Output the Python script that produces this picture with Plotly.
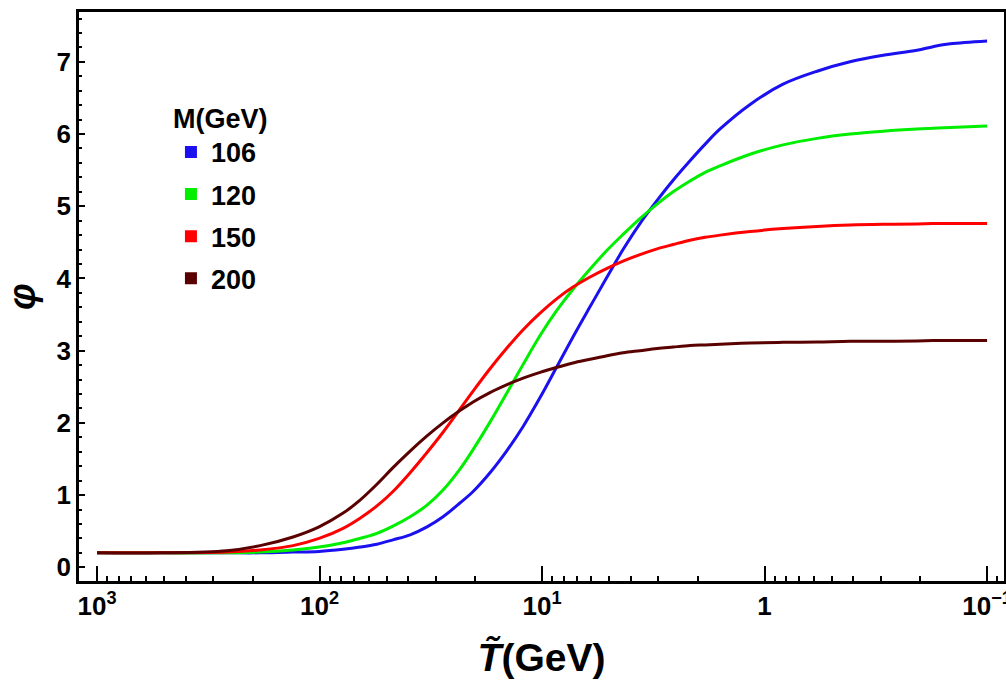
import plotly.graph_objects as go

# temperature grid (log10 of GeV), decreasing from 10^3 to 10^-1
T_log10 = [3.000, 2.717, 2.416, 2.267, 2.119, 2.002, 1.894, 1.818, 1.742, 1.670, 1.593,
           1.517, 1.445, 1.369, 1.310, 1.234, 1.157, 1.085, 1.009, 0.933, 0.861, 0.784,
           0.708, 0.636, 0.560, 0.483, 0.411, 0.335, 0.267, 0.200, 0.065, -0.083, -0.236,
           -0.384, -0.533, -0.685, -0.757, -0.834, -1.000]
T_vals = [10 ** v for v in T_log10]

masses = ["106", "120", "150", "200"]
phi_106 = [0.20, 0.20, 0.20, 0.20, 0.21, 0.22, 0.25, 0.28, 0.32, 0.38, 0.45, 0.56, 0.70,
           0.89, 1.05, 1.31, 1.62, 1.95, 2.35, 2.78, 3.19, 3.61, 4.02, 4.40, 4.76, 5.08,
           5.36, 5.63, 5.86, 6.07, 6.41, 6.69, 6.87, 7.00, 7.09, 7.16, 7.21, 7.25, 7.29]
phi_120 = [0.20, 0.20, 0.20, 0.21, 0.24, 0.28, 0.34, 0.40, 0.47, 0.57, 0.70, 0.86, 1.07,
           1.36, 1.63, 2.01, 2.42, 2.81, 3.21, 3.56, 3.85, 4.13, 4.39, 4.61, 4.83, 5.03,
           5.20, 5.35, 5.47, 5.56, 5.72, 5.85, 5.94, 6.00, 6.04, 6.07, 6.08, 6.09, 6.11]
phi_150 = [0.20, 0.20, 0.21, 0.24, 0.30, 0.40, 0.54, 0.68, 0.85, 1.05, 1.31, 1.59, 1.87,
           2.19, 2.44, 2.75, 3.04, 3.29, 3.52, 3.72, 3.88, 4.02, 4.14, 4.24, 4.33, 4.41,
           4.47, 4.53, 4.57, 4.60, 4.65, 4.69, 4.72, 4.74, 4.75, 4.755, 4.76, 4.76, 4.76]
phi_200 = [0.20, 0.20, 0.23, 0.30, 0.42, 0.56, 0.75, 0.93, 1.15, 1.38, 1.61, 1.82, 2.00,
           2.17, 2.29, 2.42, 2.53, 2.62, 2.70, 2.77, 2.83, 2.88, 2.93, 2.97, 3.00, 3.03,
           3.05, 3.07, 3.08, 3.09, 3.105, 3.115, 3.12, 3.13, 3.13, 3.135, 3.14, 3.14, 3.14]
series = [phi_106, phi_120, phi_150, phi_200]
colors = ["#1a10f0", "#00ee00", "#ff0000", "#5a0000"]

x_tickvals = [1000, 100, 10, 1, 0.1]
x_ticktext = ["10<sup>3</sup>", "10<sup>2</sup>", "10<sup>1</sup>", "1", "10<sup>−1</sup>"]
y_tickvals = [0, 1, 2, 3, 4, 5, 6, 7]

FONT = "Liberation Sans, Arial, sans-serif"

fig = go.Figure()
for m, ys, c in zip(masses, series, colors):
    fig.add_trace(go.Scatter(x=T_vals, y=ys, mode="lines",
                             line=dict(color=c, width=3, shape="spline", smoothing=1.0),
                             showlegend=False, hoverinfo="skip"))
for m, c in zip(masses, colors):
    fig.add_trace(go.Scatter(x=[None], y=[None], mode="markers", name=m, legendgroup=m,
                             marker=dict(symbol="square", size=10, color=c)))

fig.update_layout(
    width=1006, height=692,
    margin=dict(l=79, r=2, t=12, b=111),
    plot_bgcolor="white", paper_bgcolor="white",
    font=dict(family=FONT, size=26, color="black"),
    showlegend=True,
    legend=dict(
        title=dict(text="<b>M(GeV)</b>", font=dict(size=27)),
        font=dict(size=27, weight="bold"),
        x=0.0994, y=0.858, xanchor="left", yanchor="top",
        bgcolor="rgba(0,0,0,0)", tracegroupgap=4, itemsizing="constant",
    ),
    xaxis=dict(
        type="log", range=[3.081, -1.076], automargin=False,
        tickmode="array", tickvals=x_tickvals, ticktext=x_ticktext,
        tickfont=dict(size=26, weight="bold"),
        ticklabeloverflow="allow",
        ticks="inside", ticklen=15, tickwidth=2, tickcolor="black",
        minor=dict(ticks="inside", ticklen=5, tickwidth=2, tickcolor="black", dtick="D1", showgrid=False),
        showline=True, linewidth=2.5, linecolor="black", mirror=True,
        showgrid=False, zeroline=False,
        title=dict(text="<b><i>T\u0303</i>(GeV)</b>", font=dict(size=39), standoff=24),
    ),
    yaxis=dict(
        range=[-0.19, 7.69], automargin=False,
        tickvals=y_tickvals,
        tickfont=dict(size=26, weight="bold"),
        ticks="inside", ticklen=6, tickwidth=2, tickcolor="black",
        minor=dict(ticks="inside", ticklen=3.5, tickwidth=2, tickcolor="black", dtick=0.2, showgrid=False),
        showline=True, linewidth=2.5, linecolor="black", mirror=True,
        showgrid=False, zeroline=False,
        title=dict(text="<b><i>φ</i></b>", font=dict(size=38), standoff=10),
    ),
)

fig.write_html("out.html")
